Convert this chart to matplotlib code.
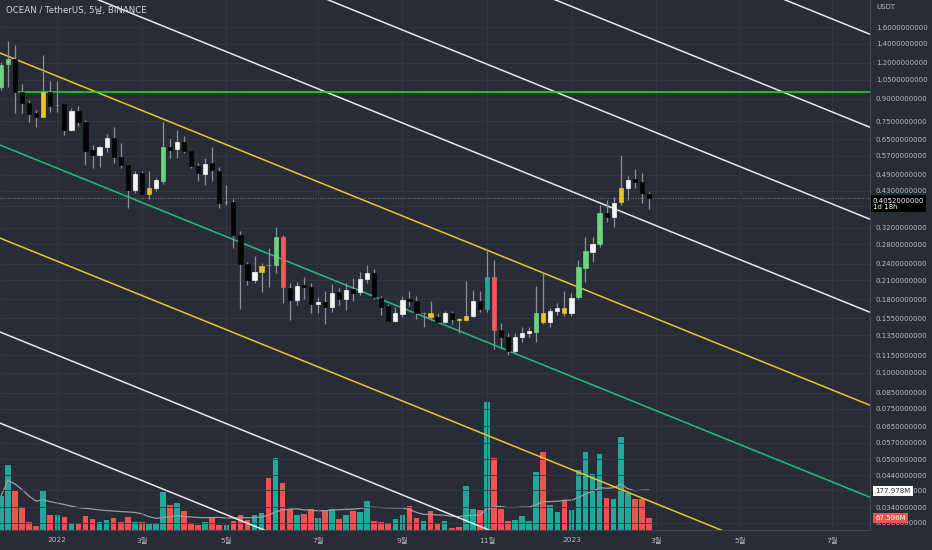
import numpy as np
import pandas as pd
import matplotlib
matplotlib.use('Agg')
import matplotlib.pyplot as plt
from matplotlib.ticker import FuncFormatter, NullLocator
from matplotlib.transforms import blended_transform_factory

plt.rcParams['font.family'] = ['DejaVu Sans', 'Noto Sans CJK KR']

# 5-day candles, OCEAN/USDT
opens = [0.9894, 1.190, 1.238, 0.9508, 0.8703, 0.8033, 0.7780, 0.9508, 0.853, 0.8639,
         0.7009, 0.8168, 0.7477, 0.5971, 0.5739, 0.6118, 0.6575, 0.5647, 0.5297, 0.4334,
         0.4967, 0.4201, 0.4405, 0.4662, 0.6118, 0.6020, 0.6370, 0.5928, 0.5252, 0.4931,
         0.5382, 0.5050, 0.3924, 0.3939, 0.3023, 0.2398, 0.2107, 0.2249, 0.2378, 0.2378,
         0.2975, 0.1977, 0.1796, 0.2025, 0.1993, 0.1741, 0.1768, 0.1698, 0.1915, 0.1811,
         0.1961, 0.1915, 0.2124, 0.2230, 0.1825, 0.1712, 0.1518, 0.1606, 0.1811, 0.1783,
         0.1612, 0.1618, 0.1567, 0.1506, 0.1618, 0.1536, 0.1530, 0.1579, 0.1783, 0.1671,
         0.2159, 0.1412, 0.1335, 0.1194, 0.1335, 0.1379, 0.1391, 0.1618, 0.1506, 0.1645,
         0.1684, 0.1618, 0.1840, 0.2321, 0.2639, 0.2813, 0.3605, 0.3492, 0.3939, 0.4405,
         0.4735, 0.4623, 0.4201]
highs = [1.209, 1.431, 1.385, 1.014, 0.8913, 0.8227, 1.279, 1.039, 1.039, 0.8639,
         0.8362, 0.8496, 0.7594, 0.6217, 0.6164, 0.6793, 0.7181, 0.6316, 0.5297, 0.5050,
         0.5050, 0.5050, 0.4773, 0.7477, 0.6522, 0.7009, 0.6678, 0.5928, 0.5382, 0.5602,
         0.6118, 0.5212, 0.4513, 0.4034, 0.3123, 0.2436, 0.2555, 0.2416, 0.2724, 0.3223,
         0.3023, 0.2058, 0.2075, 0.2159, 0.2058, 0.1840, 0.1931, 0.2042, 0.1977, 0.2058,
         0.2142, 0.2249, 0.2378, 0.2303, 0.1854, 0.1741, 0.1698, 0.1854, 0.1931, 0.1854,
         0.1632, 0.1783, 0.1618, 0.1645, 0.1645, 0.1554, 0.2092, 0.1945, 0.1931, 0.2680,
         0.2474, 0.1494, 0.1379, 0.1379, 0.1447, 0.1447, 0.2009, 0.2230, 0.1684, 0.1754,
         0.1931, 0.1899, 0.2474, 0.2975, 0.2975, 0.3845, 0.4001, 0.4099, 0.5739, 0.4850,
         0.5129, 0.4967, 0.4267]
lows = [0.9658, 0.9894, 0.8033, 0.8033, 0.7477, 0.7181, 0.7780, 0.8100, 0.8100, 0.6736,
        0.6958, 0.7235, 0.5297, 0.5170, 0.5212, 0.5879, 0.5382, 0.5170, 0.3753, 0.4232,
        0.4201, 0.4034, 0.4303, 0.4551, 0.5602, 0.5602, 0.5830, 0.5170, 0.4662, 0.4513,
        0.4662, 0.3753, 0.3845, 0.2724, 0.1671, 0.2025, 0.2058, 0.1915, 0.1993, 0.2230,
        0.1754, 0.1530, 0.1726, 0.1811, 0.1618, 0.1618, 0.1482, 0.1632, 0.1726, 0.1657,
        0.1783, 0.1869, 0.2058, 0.1811, 0.1593, 0.1506, 0.1506, 0.1567, 0.1712, 0.1542,
        0.1447, 0.1530, 0.1494, 0.1494, 0.1482, 0.1379, 0.1518, 0.1567, 0.1632, 0.1632,
        0.1212, 0.1222, 0.1156, 0.1174, 0.1283, 0.1335, 0.1283, 0.1482, 0.1447, 0.1593,
        0.1579, 0.1579, 0.1811, 0.2075, 0.2436, 0.2746, 0.3356, 0.3223, 0.3845, 0.4001,
        0.4405, 0.3906, 0.3723]
closes = [1.180, 1.238, 0.9508, 0.8703, 0.7974, 0.7780, 0.9508, 0.8496, 0.8566, 0.7009,
          0.8168, 0.7477, 0.5928, 0.5739, 0.6118, 0.6575, 0.5647, 0.5297, 0.4334, 0.4931,
          0.4201, 0.4405, 0.4696, 0.6118, 0.5971, 0.6370, 0.5928, 0.5252, 0.4967, 0.5342,
          0.5087, 0.3906, 0.3939, 0.3023, 0.2398, 0.2107, 0.2249, 0.2358, 0.2368, 0.2975,
          0.1993, 0.1796, 0.2009, 0.1993, 0.1741, 0.1768, 0.1698, 0.1899, 0.1811, 0.1945,
          0.1899, 0.2124, 0.2230, 0.1840, 0.1698, 0.1518, 0.1618, 0.1796, 0.1783, 0.1618,
          0.1618, 0.1567, 0.1506, 0.1618, 0.1542, 0.1530, 0.1579, 0.1783, 0.1671, 0.2159,
          0.1412, 0.1335, 0.1194, 0.1335, 0.1379, 0.1402, 0.1618, 0.1506, 0.1645, 0.1684,
          0.1618, 0.1825, 0.2340, 0.2661, 0.2813, 0.3605, 0.3492, 0.3906, 0.4405, 0.4696,
          0.4623, 0.4232, 0.4052]
# indicator colouring of each candle body
candle_kind = list('GGKKKKYKDK' 'WKKKWWKKKW' 'KYWGKWKKKW' 'KKDKKKWYDG'
                   'RKWKKWKWKW' 'KWWKKKWWKK' 'DYKWKYYWKT' 'RKKWWWGYWW'
                   'YWGGWGKWYW' 'KKK')
volumes = [158, 285, 178, 113, 51, 35, 178, 80, 80, 72,
           47, 43, 76, 64, 51, 59, 68, 51, 72, 51,
           51, 43, 43, 174, 121, 129, 96, 47, 39, 51,
           72, 39, 39, 55, 80, 59, 80, 88, 232, 314,
           211, 105, 80, 84, 105, 68, 100, 105, 64, 80,
           96, 92, 137, 55, 51, 47, 64, 80, 117, 68,
           55, 96, 43, 55, 27, 31, 199, 105, 100, 543,
           314, 105, 55, 59, 76, 55, 256, 338, 121, 92,
           141, 100, 264, 338, 248, 330, 150, 146, 400, 170,
           146, 146, 67.596]
vol_ma_last = 177.978

# channel drawings: price at bar -1 and bar 124
chan_start = [25.95, 12.31, 5.886, 2.792, 1.3245, 0.6333, 0.3003, 0.1414, 0.0681]
chan_end = [1.489, 0.7063, 0.3378, 0.1602, 0.0760, 0.03634, 0.01723, 0.00811, 0.003907]
chan_kind = ['W', 'W', 'W', 'W', 'Y', 'G', 'Y', 'W', 'W']
level_price = 0.95

price_ticks = [1.6, 1.4, 1.2, 1.05, 0.9, 0.75, 0.65, 0.57, 0.49, 0.43, 0.38, 0.32, 0.28,
               0.24, 0.21, 0.18, 0.155, 0.135, 0.115, 0.1, 0.085, 0.075, 0.065, 0.057,
               0.05, 0.044, 0.039, 0.034, 0.03]
month_bars = [8, 20, 32, 45, 57, 69, 81, 93, 105, 118]
month_labels = ['2022', '3월', '5월', '7월', '9월', '11월', '2023', '3월', '5월', '7월']

BG = '#282c37'
GRID = '#333743'
TXT = '#b8bbc4'
WICK = '#8c8f98'
body_col = {'K': '#050505', 'W': '#f4f4f4', 'G': '#6cd47c', 'Y': '#e6c42c',
            'R': '#ef5a5a', 'T': '#26a69a', 'D': '#8c8f98'}
line_col = {'W': '#e6e8ee', 'Y': '#e8c62a', 'G': '#20c07e'}

n = len(closes)
x = np.arange(n)
o = np.array(opens)
c = np.array(closes)

fig = plt.figure(figsize=(9.32, 5.5), dpi=100, facecolor=BG)
ax = fig.add_axes([0, 20 / 550, 870 / 932, 530 / 550])
ax_v = ax.twinx()
ax.set_zorder(2)
ax.patch.set_visible(False)
ax_v.set_zorder(1)

# volume pane overlay
up = c >= o
vol_colors = np.where(up, '#26a69a', '#ef5350')
ax_v.bar(x, volumes, width=0.8, color=vol_colors, zorder=1)
vol_ma = pd.Series(volumes).rolling(20, min_periods=1).mean()
ax_v.plot(x, vol_ma, color='#9a9da6', lw=0.9, zorder=2)
ax_v.set_ylim(18.45, 2191.5)
ax_v.axis('off')

# price
ax.set_yscale('log')
ax.set_xlim(-0.14, 123.4)
ax.set_ylim(0.02833, 1.987)

for s0, s1, k in zip(chan_start, chan_end, chan_kind):
    ax.plot([-1, 124], [s0, s1], color=line_col[k], lw=1.1, zorder=2)
ax.hlines(level_price, 2, 130, color='#22d422', lw=1.2, zorder=2)
ax.axhline(closes[-1], color='#8c8f98', lw=0.6, ls=(0, (1, 2)), zorder=1)

ax.vlines(x, lows, highs, color=WICK, lw=0.9, zorder=3)
cols = [body_col[k] for k in candle_kind]
bottoms = np.minimum(o, c)
heights = np.abs(c - o)
ax.bar(x, heights, bottom=bottoms, width=0.6, color=cols, edgecolor=cols, lw=0.5, zorder=4)

ax.set_yticks(price_ticks)
ax.yaxis.set_minor_locator(NullLocator())
ax.yaxis.set_major_formatter(FuncFormatter(lambda v, p: f'{v:.10f}'))
ax.yaxis.tick_right()
ax.tick_params(axis='y', length=0, pad=4.3, labelsize=5.0, labelcolor=TXT)
ax.set_xticks(month_bars, month_labels)
ax.tick_params(axis='x', length=0, pad=5, labelsize=5.3, labelcolor=TXT)
ax.grid(True, color=GRID, lw=0.6, zorder=0)
for s in ['left', 'top']:
    ax.spines[s].set_visible(False)
for s in ['right', 'bottom']:
    ax.spines[s].set_color('#434651')
    ax.spines[s].set_linewidth(0.8)

ax.text(0.0069, 0.981, 'OCEAN / TetherUS, 5날, BINANCE', transform=ax.transAxes,
        va='center', ha='left', fontsize=6.2, color='#d1d4dc', zorder=6)
fig.text(876 / 932, 1 - 7 / 550, 'USDT', va='center', ha='left', fontsize=5.0, color=TXT)

# value boxes on the price scale (they sit over the scale labels, as in TradingView)
ax.annotate(f'{closes[-1]:.10f}\n1d 18h', xy=(1, closes[-1]), xycoords=('axes fraction', 'data'),
            xytext=(2, -4), textcoords='offset points', va='center', ha='left',
            fontsize=5.0, color='white', linespacing=1.1, annotation_clip=False,
            bbox=dict(boxstyle='square,pad=0.3', fc='black', ec='none'), zorder=7)
vtr = blended_transform_factory(ax.transAxes, ax_v.transData)
ax.annotate(f'{vol_ma_last:.3f}M', xy=(1, vol_ma_last), xycoords=vtr,
            xytext=(4, 0), textcoords='offset points', va='center', ha='left',
            fontsize=5.0, color='#2a2e39', annotation_clip=False,
            bbox=dict(boxstyle='square,pad=0.3', fc='white', ec='none'), zorder=7)
ax.annotate(f'{volumes[-1]:.3f}M', xy=(1, volumes[-1]), xycoords=vtr,
            xytext=(4, 0), textcoords='offset points', va='center', ha='left',
            fontsize=5.0, color='white', annotation_clip=False,
            bbox=dict(boxstyle='square,pad=0.3', fc='#ef5350', ec='none'), zorder=7)

fig.savefig('out.png', dpi=100, facecolor=BG)
